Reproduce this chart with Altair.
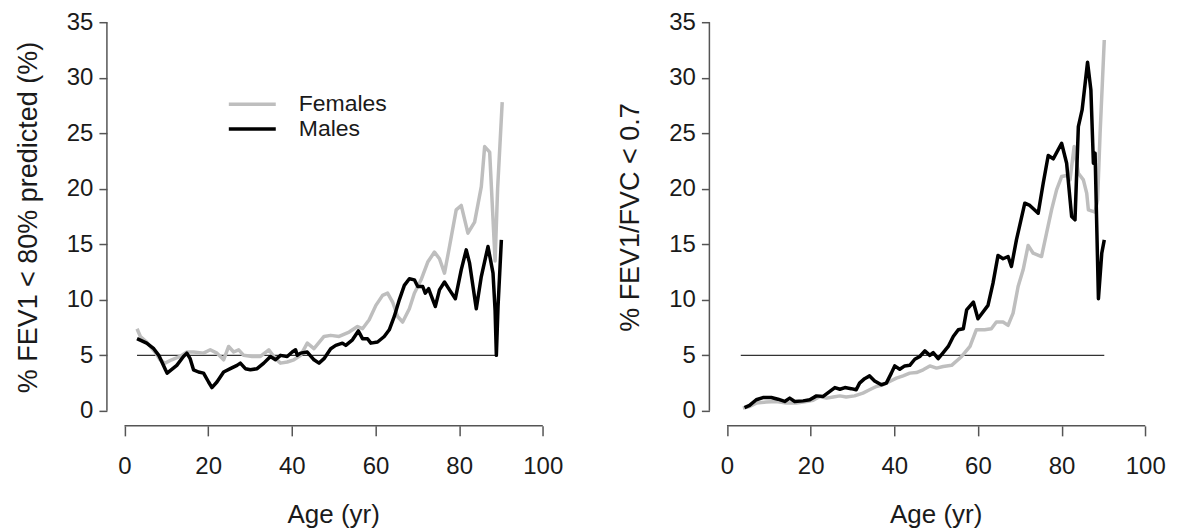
import altair as alt
import pandas as pd

# ---------------- data ----------------
x_ticks = [0, 20, 40, 60, 80, 100]
y_ticks = [0, 5, 10, 15, 20, 25, 30, 35]
x_domain = [-4.2, 104]
y_domain = [-1.35, 36.26]
sexes = ["Females", "Males"]
sex_colors = ["#BEBEBE", "#000000"]
ref_level = 5

x_title = "Age (yr)"
left_ytitle = "% FEV1 < 80% predicted (%)"
right_ytitle = "% FEV1/FVC < 0.7"

# Left panel: % FEV1 < 80% predicted
fev1_m_age = [3.0, 5.3, 7.0, 8.2, 9.8, 10.2, 12.5, 14.1, 14.9, 15.7,
              16.5, 17.7, 18.9, 20.1, 20.9, 22.1, 23.7, 25.3, 26.9, 27.7,
              28.9, 30.1, 31.7, 33.3, 34.9, 36.1, 37.3, 38.9, 40.1, 40.9,
              41.3, 42.1, 43.7, 45.3, 46.5, 47.7, 49.3, 50.5, 52.1, 52.9,
              54.5, 55.9, 56.9, 58.1, 58.9, 60.5, 62.1, 63.3, 64.5, 65.7,
              66.9, 68.1, 69.3, 70.1, 71.3, 71.9, 72.7, 73.3, 74.3, 75.3,
              76.5, 77.7, 79.1, 80.5, 81.7, 82.5, 84.1, 85.3, 86.9, 88.1,
              88.6, 88.9, 89.3, 90.1]
fev1_m_val = [6.5, 6.1, 5.6, 5.0, 3.7, 3.4, 4.1, 4.9, 5.2, 4.7,
              3.7, 3.5, 3.4, 2.6, 2.1, 2.6, 3.5, 3.8, 4.1, 4.3,
              3.8, 3.7, 3.8, 4.3, 4.9, 4.6, 5.0, 4.9, 5.3, 5.5,
              5.0, 5.2, 5.3, 4.6, 4.3, 4.7, 5.6, 5.9, 6.1, 5.9,
              6.4, 7.2, 6.5, 6.5, 6.1, 6.2, 6.7, 7.3, 8.5, 10.0,
              11.3, 11.9, 11.8, 11.2, 11.2, 10.6, 11.0, 10.4, 9.4, 10.9,
              11.6, 10.9, 10.1, 12.7, 14.5, 13.3, 9.2, 12.1, 14.8, 12.4,
              9.0, 5.0, 9.4, 15.4]
fev1_f_age = [3.0, 3.8, 5.3, 7.3, 8.5, 9.7, 11.3, 13.3, 14.9, 16.5,
              18.9, 20.5, 22.1, 23.7, 24.9, 26.1, 27.3, 28.5, 30.5, 32.5,
              34.5, 36.1, 37.3, 38.9, 40.5, 42.1, 43.7, 45.3, 47.7, 49.3,
              51.3, 53.7, 55.7, 56.9, 58.5, 60.1, 61.7, 62.9, 64.1, 65.3,
              66.5, 68.1, 69.3, 70.9, 72.5, 74.1, 75.3, 76.5, 77.7, 79.3,
              80.5, 82.1, 83.7, 85.3, 86.1, 87.3, 88.0, 88.6, 89.2, 90.3]
fev1_f_val = [7.4, 6.7, 6.2, 5.3, 4.6, 4.3, 4.6, 4.9, 5.3, 5.3,
              5.2, 5.5, 5.2, 4.6, 5.8, 5.3, 5.5, 5.0, 4.9, 4.9,
              5.5, 4.7, 4.3, 4.4, 4.6, 5.0, 6.1, 5.6, 6.7, 6.8,
              6.7, 7.1, 7.6, 7.4, 8.2, 9.5, 10.4, 10.6, 9.8, 8.5,
              8.0, 9.2, 10.6, 11.8, 13.4, 14.3, 13.7, 12.4, 14.8, 18.1,
              18.5, 16.0, 17.0, 20.2, 23.8, 23.3, 18.0, 13.5, 20.0, 27.8]
fev1_ref = [3.0, 88.9]

# Right panel: % FEV1/FVC < 0.7
fvc_m_age = [4.2, 5.4, 7.0, 8.6, 10.6, 12.2, 13.8, 15.0, 16.2, 18.2,
             19.8, 21.4, 23.0, 24.6, 25.8, 27.0, 28.2, 29.7, 30.9, 31.7,
             32.9, 34.1, 35.3, 36.9, 38.1, 39.3, 40.1, 41.3, 42.5, 43.7,
             44.9, 46.1, 47.3, 48.5, 49.3, 50.5, 51.7, 52.9, 54.1, 55.3,
             56.5, 57.3, 58.9, 60.0, 62.4, 63.6, 64.8, 66.0, 67.2, 68.0,
             69.2, 71.2, 72.4, 74.4, 75.6, 76.8, 78.0, 80.0, 81.2, 82.4,
             83.2, 84.0, 84.9, 86.2, 87.0, 87.6, 88.0, 88.8, 89.6, 90.2]
fvc_m_val = [0.3, 0.5, 1.0, 1.2, 1.2, 1.05, 0.85, 1.15, 0.85, 0.9,
             1.0, 1.35, 1.3, 1.75, 2.1, 1.95, 2.1, 2.0, 1.9, 2.5,
             2.9, 3.15, 2.7, 2.35, 2.5, 3.4, 4.05, 3.75, 4.05, 4.1,
             4.65, 4.9, 5.4, 5.0, 5.25, 4.7, 5.25, 5.8, 6.7, 7.3,
             7.4, 9.1, 9.8, 8.3, 9.5, 11.5, 14.0, 13.7, 13.9, 13.0,
             15.4, 18.7, 18.5, 17.8, 20.5, 23.0, 22.7, 24.1, 22.3, 17.5,
             17.2, 25.6, 27.1, 31.4, 28.9, 22.3, 23.2, 10.1, 14.2, 15.4]
fvc_f_age = [3.8, 5.4, 7.0, 9.4, 11.8, 14.2, 16.6, 19.0, 20.6, 22.2,
             23.8, 25.4, 27.0, 28.5, 30.5, 32.5, 34.1, 35.7, 37.3, 38.9,
             40.5, 42.1, 43.7, 45.3, 46.9, 48.5, 50.1, 51.7, 53.7, 56.1,
             58.1, 59.6, 61.6, 63.2, 64.4, 66.0, 67.2, 68.4, 69.6, 70.8,
             72.0, 73.2, 75.2, 76.4, 77.6, 78.8, 80.0, 81.2, 82.0, 83.0,
             84.0, 85.2, 86.0, 86.4, 88.0, 88.6, 89.2, 90.2]
fvc_f_val = [0.25, 0.4, 0.7, 0.8, 0.85, 0.7, 0.7, 0.85, 0.95, 1.3,
             1.15, 1.25, 1.35, 1.25, 1.35, 1.6, 1.9, 2.2, 2.35, 2.65,
             2.95, 3.15, 3.4, 3.45, 3.7, 4.05, 3.85, 4.0, 4.1, 4.9,
             5.8, 7.3, 7.3, 7.4, 8.0, 8.0, 7.7, 8.8, 11.2, 12.7,
             14.9, 14.2, 13.9, 16.0, 18.1, 19.9, 21.1, 21.2, 20.8, 23.8,
             21.4, 20.8, 19.6, 18.1, 17.9, 19.0, 25.0, 33.4]
fvc_ref = [3.3, 90.2]

# ---------------- chart ----------------
W, H = 453, 418
FONT = "Liberation Sans"
AXIS_COL = "#555555"
TEXT_COL = "#1a1a1a"


def make_df(f_age, f_val, m_age, m_val):
    rows = [{"age": a, "pct": v, "sex": sexes[0]} for a, v in zip(f_age, f_val)]
    rows += [{"age": a, "pct": v, "sex": sexes[1]} for a, v in zip(m_age, m_val)]
    return pd.DataFrame(rows)


def panel(df, ytitle, ref, show_legend):
    xs = alt.Scale(domain=x_domain, nice=False, zero=False)
    ys = alt.Scale(domain=y_domain, nice=False, zero=False)
    xax = alt.Axis(values=x_ticks, domain=False, grid=False, tickSize=10,
                   tickColor=AXIS_COL, tickWidth=1.5, labelFontSize=24,
                   labelColor=TEXT_COL, labelPadding=19, labelFlush=False,
                   title=x_title, titleFontSize=26, titleFontWeight="normal",
                   titleColor=TEXT_COL, titlePadding=23)
    yax = alt.Axis(values=y_ticks, domain=False, grid=False, tickSize=8,
                   tickColor=AXIS_COL, tickWidth=1.5, labelFontSize=24,
                   labelColor=TEXT_COL, labelPadding=6, labelFlush=False,
                   title=ytitle, titleFontSize=27, titleFontWeight="normal",
                   titleColor=TEXT_COL, titlePadding=24)
    if show_legend:
        color = alt.Color("sex:N", scale=alt.Scale(domain=sexes, range=sex_colors),
                          legend=alt.Legend(orient="none", legendX=120, legendY=86,
                                            title=None, symbolType="stroke",
                                            symbolSize=2209, symbolStrokeWidth=3.5,
                                            labelFontSize=23, labelColor=TEXT_COL,
                                            labelOffset=21, clipHeight=20,
                                            rowPadding=2, padding=0))
    else:
        color = alt.Color("sex:N", scale=alt.Scale(domain=sexes, range=sex_colors),
                          legend=None)

    xl_df = pd.DataFrame({"x0": [x_ticks[0]], "x1": [x_ticks[-1]]})
    x_line = alt.Chart(xl_df).mark_rule(color=AXIS_COL, strokeWidth=1.5).encode(
        x=alt.X("x0:Q", scale=xs, axis=xax), x2="x1:Q", y=alt.value(H),
    )
    yl_df = pd.DataFrame({"y0": [y_ticks[0]], "y1": [y_ticks[-1]]})
    y_line = alt.Chart(yl_df).mark_rule(color=AXIS_COL, strokeWidth=1.5).encode(
        y=alt.Y("y0:Q", scale=ys, axis=yax), y2="y1:Q", x=alt.value(0),
    )
    ref_df = pd.DataFrame({"a": [ref[0]], "b": [ref[1]], "lvl": [ref_level]})
    ref_rule = alt.Chart(ref_df).mark_rule(color="#333333", strokeWidth=1.4).encode(
        x=alt.X("a:Q", scale=xs, axis=xax), x2="b:Q",
        y=alt.Y("lvl:Q", scale=ys, axis=yax),
    )
    lines = alt.Chart(df).mark_line(strokeWidth=3.5, strokeJoin="round").encode(
        x=alt.X("age:Q", scale=xs, axis=xax),
        y=alt.Y("pct:Q", scale=ys, axis=yax),
        color=color,
    )
    return alt.layer(x_line, y_line, ref_rule, lines).properties(width=W, height=H)


left = panel(make_df(fev1_f_age, fev1_f_val, fev1_m_age, fev1_m_val),
             left_ytitle, fev1_ref, True)
right = panel(make_df(fvc_f_age, fvc_f_val, fvc_m_age, fvc_m_val),
              right_ytitle, fvc_ref, False)

chart = alt.hconcat(left, right, spacing=150, bounds="flush").properties(
    padding={"left": 6, "top": 0, "right": 5, "bottom": 0}
).configure(font=FONT).configure_view(stroke=None)

chart.save("out.html", embed_options={"renderer": "svg", "actions": False})
